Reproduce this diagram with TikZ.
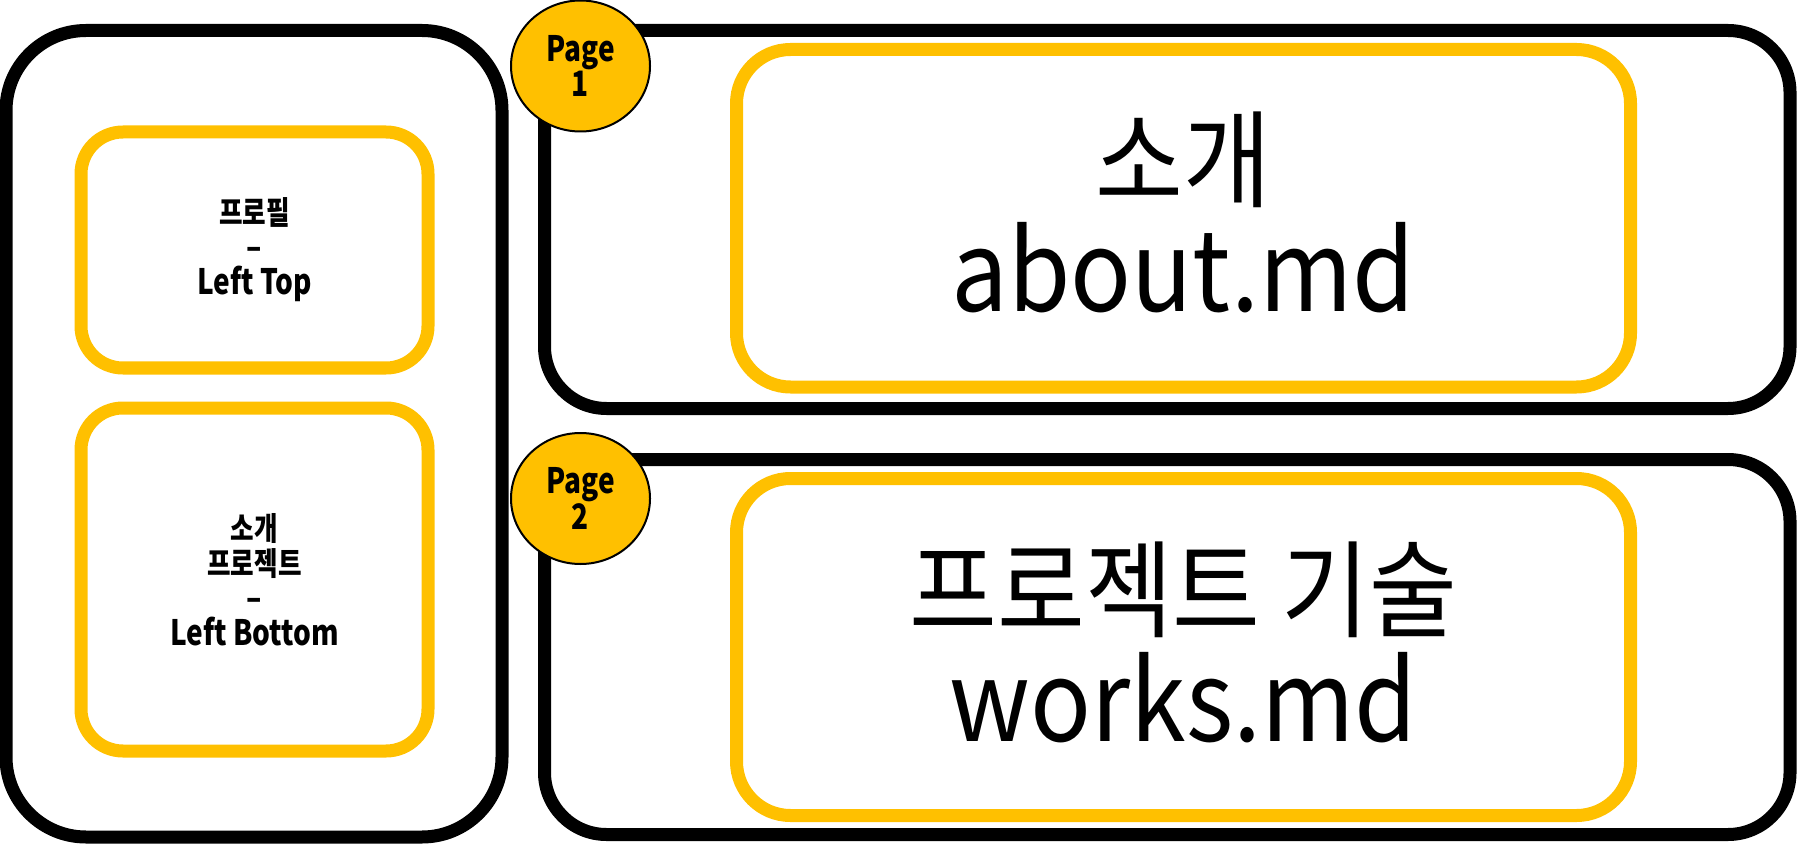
\documentclass[tikz,border=0pt]{standalone}
\usepackage{fontspec}
\setmainfont{Noto Sans CJK KR}[FakeStretch=0.9]
\newfontfamily\condfont{Noto Sans CJK KR}[FakeStretch=0.8]
\usetikzlibrary{shapes.geometric}
\definecolor{gold}{HTML}{FFC000}
\tikzset{
  blackbox/.style={draw=black, line width=6.5pt, rounded corners=#1, inner sep=0pt, align=center},
  goldbox/.style={draw=gold, line width=6.5pt, rounded corners=#1, inner sep=0pt, align=center},
  pagebadge/.style={ellipse, draw=black, line width=1pt, fill=gold, inner sep=0pt,
    minimum width=69.5pt, minimum height=65.5pt, align=center,
    font=\condfont\bfseries\fontsize{17.5}{16.5}\selectfont},
  smalltxt/.style={font=\condfont\bfseries\fontsize{17.5}{17.5}\selectfont},
  bigtxt/.style={font=\fontsize{53}{56}\selectfont}
}
\newcommand{\krs}[1]{{\fontsize{16}{17.5}\selectfont #1}}
\newcommand{\latbig}[1]{{\fontsize{56}{56}\selectfont #1}}
\begin{document}
\begin{tikzpicture}[x=0.5pt,y=-0.5pt]
\useasboundingbox (0,0) rectangle (1797,844);
% outer black frames
\node[blackbox=40pt, minimum width=248pt, minimum height=403.25pt] (left) at (254,433.75) {};
\node[blackbox=31pt, minimum width=622.75pt, minimum height=189pt] (page1) at (1167.25,219.5) {};
\node[blackbox=31pt, minimum width=622.75pt, minimum height=187.5pt] (page2) at (1167.25,647) {};
% left yellow boxes
\node[goldbox=21pt, minimum width=173.5pt, minimum height=118pt, smalltxt] (lt) at (254.5,250)
  {\krs{프로필}\\–\\Left Top};
\node[goldbox=21pt, minimum width=173.5pt, minimum height=171.5pt, smalltxt] (lb) at (254.5,579.5)
  {\krs{소개}\\\krs{프로젝트}\\–\\Left Bottom};
% right yellow boxes
\node[goldbox=27pt, minimum width=447pt, minimum height=168.75pt] (about) at (1183.5,218.25) {};
\node[goldbox=27pt, minimum width=447pt, minimum height=168.5pt] (works) at (1183.5,647) {};
\node[bigtxt, align=center, inner sep=0pt, yshift=3pt] (abouttxt) at (about.center)
  {소개\\\latbig{about.md}};
\node[bigtxt, align=center, inner sep=0pt, yshift=2.5pt] (workstxt) at (works.center)
  {프로젝트 기술\\\latbig{works.md}};
% page badges
\node[pagebadge] (b1) at (580.5,66) {Page\\1};
\node[pagebadge] (b2) at (580.5,498.5) {Page\\2};
\end{tikzpicture}
\end{document}
